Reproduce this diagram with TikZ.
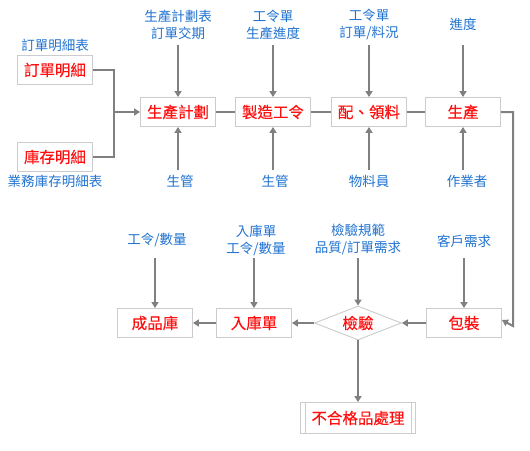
\documentclass[tikz,border=0pt]{standalone}
\usepackage{fontspec}
\newfontfamily\cjk{Noto Sans CJK TC}
\newfontfamily\cjkb[FakeBold=0.35]{Noto Sans CJK TC}
\usetikzlibrary{arrows.meta,shapes.geometric,calc}
\definecolor{lblblue}{HTML}{1F72D0}
\definecolor{boxred}{HTML}{FF1010}
\definecolor{boxline}{HTML}{CCCCCC}
\definecolor{conn}{HTML}{808080}
\begin{document}
\begin{tikzpicture}[x=1pt,y=-1pt,
  lbl/.style={font=\cjk\fontsize{13.5}{17}\selectfont, text=lblblue, align=center, inner sep=0pt},
  pbox/.style={draw=boxline, line width=0.9pt, fill=white, minimum width=75pt, minimum height=29pt, inner sep=0pt, font=\cjkb\fontsize{15.5}{17}\selectfont, text=boxred},
  dbox/.style={draw=boxline, line width=0.9pt, fill=white, diamond, aspect=2.6, minimum width=87pt, minimum height=34pt, inner sep=0pt, font=\cjkb\fontsize{15.5}{17}\selectfont, text=boxred},
  conn/.style={draw=conn, line width=2pt},
  arr/.style={conn, -{Triangle[length=6pt,width=7pt]}}
]
\useasboundingbox (0,0) rectangle (530,450);
% top row boxes
\node[pbox] (ord) at (55,70) {訂單明細};
\node[pbox] (inv) at (55,157) {庫存明細};
\node[pbox] (plan) at (178,112) {生產計劃};
\node[pbox] (mo) at (273,112) {製造工令};
\node[pbox] (mat) at (369,112) {配、領料};
\node[pbox] (prod) at (463,112) {生產};
% bottom row
\node[pbox] (pack) at (464,323) {包裝};
\node[dbox] (chk) at (358,323) {檢驗};
\node[pbox] (inw) at (254,323) {入庫單};
\node[pbox] (fg) at (155,323) {成品庫};
\node[pbox, minimum width=115pt, minimum height=31pt] (ng) at (358,418) {不合格品處理};
\draw[boxline, line width=0.9pt] ($(ng.north west)+(5,0)$) -- ($(ng.south west)+(5,0)$);
\draw[boxline, line width=0.9pt] ($(ng.north east)+(-5,0)$) -- ($(ng.south east)+(-5,0)$);
% labels
\node[lbl] (lord) at (55,45) {訂單明細表};
\node[lbl] (linv) at (55,181) {業務庫存明細表};
\node[lbl] (lplan) at (178,24.5) {生產計劃表\\訂單交期};
\node[lbl] (lmo) at (273,24.5) {工令單\\生產進度};
\node[lbl] (lmat) at (369,24.5) {工令單\\訂單/料況};
\node[lbl] (lprod) at (463,24) {進度};
\node[lbl] (bplan) at (180,181) {生管};
\node[lbl] (bmo) at (275,181) {生管};
\node[lbl] (bmat) at (369,181) {物料員};
\node[lbl] (bprod) at (467,181) {作業者};
\node[lbl] (lfg) at (157,240) {工令/數量};
\node[lbl] (linw) at (256,240.5) {入庫單\\工令/數量};
\node[lbl] (lchk) at (358,239.5) {檢驗規範\\品質/訂單需求};
\node[lbl] (lpack) at (464,241) {客戶需求};
% bracket
\coordinate (bx) at (114,112);
\draw[conn] (ord.east) -- (ord.east -| bx) -- (inv.east -| bx) -- (inv.east);
\draw[arr] (bx) -- (plan.west);
% top arrows
\foreach \n in {plan,mo,mat,prod}{
  \draw[arr] (\n.north |- 0,45) -- (\n.north);
  \draw[arr] (\n.south |- 0,170) -- (\n.south);
}
% horizontal links
\draw[conn] (plan.east) -- (mo.west);
\draw[conn] (mo.east) -- (mat.west);
\draw[conn] (mat.east) -- (prod.west);
% prod to pack
\draw[arr] (prod.east) -- (513,112) -- (513,326) -- ([yshift=3pt]pack.east);
% bottom flow
\draw[arr] (pack.west) -- (chk.east);
\draw[arr] (chk.west) -- (inw.east);
\draw[arr] (inw.west) -- (fg.east);
\draw[arr] (chk.south) -- (ng.north);
% label arrows
\foreach \n in {fg,inw,chk,pack}{
  \draw[arr] (\n.north |- 0,258) -- (\n.north);
}
\end{tikzpicture}
\end{document}
